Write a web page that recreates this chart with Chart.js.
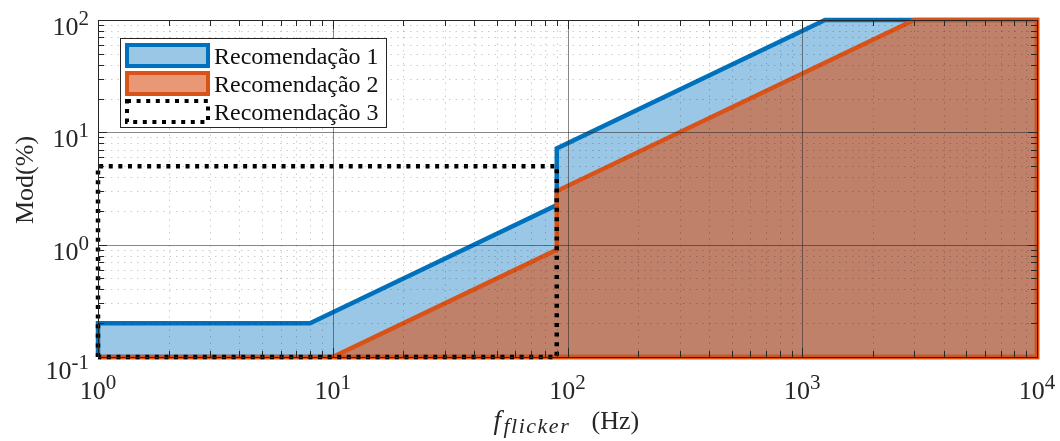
<!DOCTYPE html>
<html>
<head>
<meta charset="utf-8">
<script src="https://cdn.jsdelivr.net/npm/chart.js@4.4.0/dist/chart.umd.min.js"></script>
<style>
  html, body { margin: 0; padding: 0; background: #fff; }
</style>
</head>
<body>
<canvas id="myChart" width="1060" height="441"></canvas>
<script>
// limits (closed polygons, f in Hz, Mod in %)
const rec1Freq = [1, 1, 8, 90, 90, 1250, 10000, 10000, 1];
const rec1Mod = [0.1, 0.2, 0.2, 2.25, 7.2, 100, 100, 0.1, 0.1];
const rec2Freq = [1, 10, 90, 90, 3000, 10000, 10000, 1];
const rec2Mod = [0.1, 0.1, 0.9, 3, 100, 100, 0.1, 0.1];
const rec3Freq = [1, 1, 90, 90, 1];
const rec3Mod = [0.1, 5, 5, 0.1, 0.1];
const seriesNames = ['Recomendação 1', 'Recomendação 2', 'Recomendação 3'];

const xTicks = [1, 10, 100, 1000, 10000];
const xTickExp = ['0', '1', '2', '3', '4'];
const yTicks = [0.1, 1, 10, 100];
const yTickExp = ['-1', '0', '1', '2'];

const FONT = '"Liberation Serif", "Times New Roman", serif';
const AXIS = '#262626';

function toPoints(xs, ys) {
  return xs.map((x, i) => ({ x: x, y: ys[i] }));
}

function minorValues(majors) {
  const out = [];
  for (let i = 0; i < majors.length - 1; i++) {
    for (let k = 2; k <= 9; k++) out.push(majors[i] * k);
  }
  return out;
}

function drawPower(ctx, exp, xLeft, baseline) {
  ctx.font = '26px ' + FONT;
  ctx.fillText('10', xLeft, baseline);
  const w = ctx.measureText('10').width;
  ctx.font = '21px ' + FONT;
  ctx.fillText(exp, xLeft + w, baseline - 10);
}

function powerWidth(ctx, exp) {
  ctx.font = '26px ' + FONT;
  const w1 = ctx.measureText('10').width;
  ctx.font = '21px ' + FONT;
  return w1 + ctx.measureText(exp).width;
}

// grid, box and ticks drawn over the patches, like the MATLAB "layer top"
const axesPlugin = {
  id: 'matlabAxes',
  afterDatasetsDraw(chart) {
    const { ctx, chartArea: a, scales: { x, y } } = chart;
    const L = a.left, R = a.right, T = a.top, B = a.bottom;
    const xMinor = minorValues(xTicks);
    const yMinor = minorValues(yTicks);
    ctx.save();

    // minor grid
    ctx.lineWidth = 1;
    ctx.strokeStyle = 'rgba(0,0,0,0.2)';
    ctx.setLineDash([1.5, 5]);
    ctx.beginPath();
    xMinor.forEach(v => {
      const px = Math.round(x.getPixelForValue(v)) + 0.5;
      ctx.moveTo(px, B); ctx.lineTo(px, T);
    });
    yMinor.forEach(v => {
      const py = Math.round(y.getPixelForValue(v)) + 0.5;
      ctx.moveTo(L, py); ctx.lineTo(R, py);
    });
    ctx.stroke();

    // major grid
    ctx.setLineDash([]);
    ctx.strokeStyle = 'rgba(38,38,38,0.55)';
    ctx.beginPath();
    xTicks.forEach(v => {
      const px = Math.round(x.getPixelForValue(v)) + 0.5;
      ctx.moveTo(px, B); ctx.lineTo(px, T);
    });
    yTicks.forEach(v => {
      const py = Math.round(y.getPixelForValue(v)) + 0.5;
      ctx.moveTo(L, py); ctx.lineTo(R, py);
    });
    ctx.stroke();

    // ticks on all four sides, pointing in
    ctx.strokeStyle = AXIS;
    ctx.beginPath();
    const tick = (vals, len) => {
      vals.forEach(v => {
        const px = Math.round(x.getPixelForValue(v)) + 0.5;
        ctx.moveTo(px, B); ctx.lineTo(px, B - len);
        ctx.moveTo(px, T); ctx.lineTo(px, T + len);
      });
    };
    const tickY = (vals, len) => {
      vals.forEach(v => {
        const py = Math.round(y.getPixelForValue(v)) + 0.5;
        ctx.moveTo(L, py); ctx.lineTo(L + len, py);
        ctx.moveTo(R, py); ctx.lineTo(R - len, py);
      });
    };
    tick(xTicks, 9); tick(xMinor, 6);
    tickY(yTicks, 9); tickY(yMinor, 6);
    ctx.stroke();

    // box
    ctx.strokeRect(Math.round(L) + 0.5, Math.round(T) + 0.5, Math.round(R - L), Math.round(B - T));
    ctx.restore();
  },

  afterDraw(chart) {
    const { ctx, chartArea: a, scales: { x, y } } = chart;
    ctx.save();
    ctx.fillStyle = AXIS;
    ctx.textAlign = 'left';
    ctx.textBaseline = 'alphabetic';

    xTicks.forEach((v, i) => {
      const px = x.getPixelForValue(v);
      const w = powerWidth(ctx, xTickExp[i]);
      drawPower(ctx, xTickExp[i], px - w / 2, a.bottom + 42);
    });
    yTicks.forEach((v, i) => {
      const py = y.getPixelForValue(v);
      const w = powerWidth(ctx, yTickExp[i]);
      const shift = i === 0 ? 22 : 15;
      drawPower(ctx, yTickExp[i], a.left - 9 - w, py + shift);
    });

    // x title: f_flicker (Hz)
    const cx = (a.left + a.right) / 2;
    const base = a.bottom + 72;
    ctx.font = 'italic 27px ' + FONT;
    ctx.fillText('f', cx - 74, base);
    ctx.font = 'italic 22px ' + FONT;
    ctx.letterSpacing = '1.5px';
    ctx.fillText('flicker', cx - 64, base + 4);
    ctx.letterSpacing = '0px';
    ctx.font = '26px ' + FONT;
    ctx.fillText('(Hz)', cx + 24, base);

    // y title
    ctx.translate(33, 180);
    ctx.rotate(-Math.PI / 2);
    ctx.textAlign = 'center';
    ctx.fillText('Mod(%)', 0, 0);
    ctx.restore();

    // legend inside the axes, top left
    const bx = a.left + 22, by = a.top + 18, bw = 267, bh = 90;
    ctx.save();
    ctx.fillStyle = '#fff';
    ctx.fillRect(bx, by, bw, bh);
    ctx.strokeStyle = AXIS;
    ctx.lineWidth = 1;
    ctx.strokeRect(bx + 0.5, by + 0.5, bw - 1, bh - 1);
    chart.data.datasets.forEach((ds, i) => {
      const px = bx + 5, py = by + 5 + i * 28;
      ctx.fillStyle = ds.fill ? ds.backgroundColor : '#fff';
      ctx.fillRect(px + 2, py + 2, 81, 21);
      ctx.strokeStyle = ds.borderColor;
      ctx.lineWidth = 4;
      ctx.setLineDash(ds.borderDash || []);
      ctx.strokeRect(px + 2, py + 2, 81, 21);
      ctx.setLineDash([]);
      ctx.fillStyle = '#111';
      ctx.font = '24px ' + FONT;
      ctx.textAlign = 'left';
      ctx.textBaseline = 'alphabetic';
      ctx.fillText(ds.label, bx + 94, by + 26 + i * 28);
    });
    ctx.restore();
  }
};

const ctx = document.getElementById('myChart').getContext('2d');
const myChart = new Chart(ctx, {
  type: 'line',
  data: {
    datasets: [{
      label: seriesNames[0],
      data: toPoints(rec1Freq, rec1Mod),
      borderColor: '#0072BD',
      backgroundColor: 'rgba(0,114,189,0.4)',
      borderWidth: 4.5,
      fill: 'shape',
      order: 3
    }, {
      label: seriesNames[1],
      data: toPoints(rec2Freq, rec2Mod),
      borderColor: '#D95319',
      backgroundColor: 'rgba(217,83,25,0.6)',
      borderWidth: 4.5,
      fill: 'shape',
      order: 2
    }, {
      label: seriesNames[2],
      data: toPoints(rec3Freq, rec3Mod),
      borderColor: '#000000',
      backgroundColor: 'rgba(0,0,0,0)',
      borderWidth: 4.5,
      borderDash: [4, 5.6],
      fill: false,
      order: 1
    }]
  },
  options: {
    responsive: false,
    animation: false,
    devicePixelRatio: 1,
    layout: { padding: { left: 98, top: 20, right: 23, bottom: 84 } },
    elements: {
      point: { radius: 0, hoverRadius: 0 },
      line: { tension: 0, borderCapStyle: 'butt', borderJoinStyle: 'miter' }
    },
    datasets: { line: { clip: 4 } },
    scales: {
      x: { type: 'logarithmic', min: 1, max: 10000, display: false },
      y: { type: 'logarithmic', min: 0.1, max: 100, display: false }
    },
    plugins: {
      legend: { display: false },
      tooltip: { enabled: false }
    }
  },
  plugins: [axesPlugin]
});
</script>
</body>
</html>
